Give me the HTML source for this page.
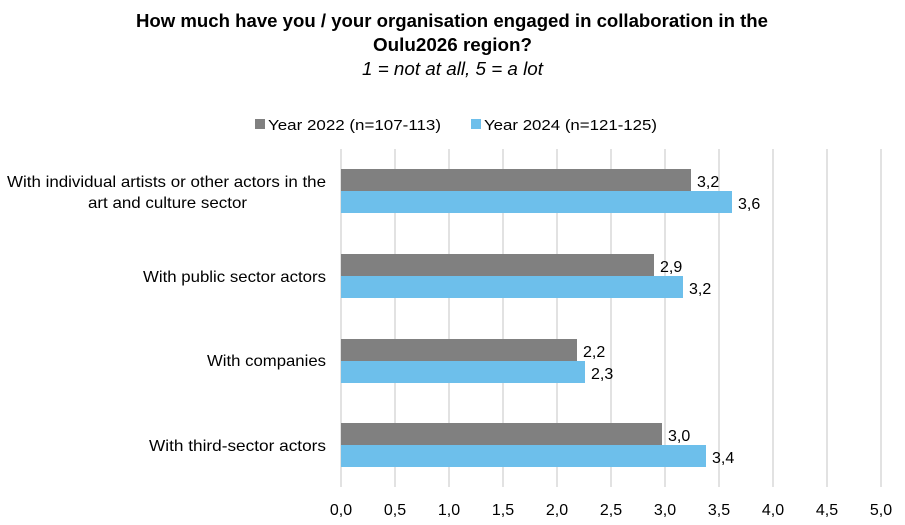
<!DOCTYPE html>
<html><head><meta charset="utf-8"><style>
html,body{margin:0;padding:0;background:#fff;}
svg{display:block;font-family:"Liberation Sans",sans-serif;}
</style></head><body>
<svg width="905" height="525" viewBox="0 0 905 525" xmlns="http://www.w3.org/2000/svg">
<text x="136" y="27" font-size="18" font-weight="bold" fill="#000" textLength="632" lengthAdjust="spacingAndGlyphs">How much have you / your organisation engaged in collaboration in the</text>
<text x="373" y="51" font-size="18" font-weight="bold" fill="#000" textLength="159" lengthAdjust="spacingAndGlyphs">Oulu2026 region?</text>
<text x="362" y="75" font-size="18" font-style="italic" fill="#000" textLength="181" lengthAdjust="spacingAndGlyphs">1 = not at all, 5 = a lot</text>
<rect x="255" y="119" width="10" height="10" fill="#808080"/>
<text x="268" y="130" font-size="15" fill="#000" textLength="173" lengthAdjust="spacingAndGlyphs">Year 2022 (n=107-113)</text>
<rect x="471" y="119" width="10" height="10" fill="#6dbfeb"/>
<text x="484" y="130" font-size="15" fill="#000" textLength="173" lengthAdjust="spacingAndGlyphs">Year 2024 (n=121-125)</text>
<g stroke="#d9d9d9" stroke-width="1.5">
<line x1="341" y1="149" x2="341" y2="487"/><line x1="395" y1="149" x2="395" y2="487"/>
<line x1="449" y1="149" x2="449" y2="487"/><line x1="503" y1="149" x2="503" y2="487"/>
<line x1="557" y1="149" x2="557" y2="487"/><line x1="611" y1="149" x2="611" y2="487"/>
<line x1="665" y1="149" x2="665" y2="487"/><line x1="719" y1="149" x2="719" y2="487"/>
<line x1="773" y1="149" x2="773" y2="487"/><line x1="827" y1="149" x2="827" y2="487"/>
<line x1="881" y1="149" x2="881" y2="487"/>
</g>
<g fill="#808080">
<rect x="341" y="169" width="350" height="22"/><rect x="341" y="254" width="313" height="22"/>
<rect x="341" y="339" width="236" height="22"/><rect x="341" y="423" width="321" height="22"/>
</g>
<g fill="#6dbfeb">
<rect x="341" y="191" width="391" height="22"/><rect x="341" y="276" width="342" height="22"/>
<rect x="341" y="361" width="244" height="22"/><rect x="341" y="445" width="365" height="22"/>
</g>
<g font-size="16" fill="#000">
<text x="697" y="187">3,2</text><text x="738" y="209">3,6</text>
<text x="660" y="272">2,9</text><text x="689" y="294">3,2</text>
<text x="583" y="357">2,2</text><text x="591" y="379">2,3</text>
<text x="668" y="441">3,0</text><text x="712" y="463">3,4</text>
</g>
<g font-size="16" fill="#000">
<text x="7" y="187" textLength="319" lengthAdjust="spacingAndGlyphs">With individual artists or other actors in the</text>
<text x="88" y="208" textLength="159" lengthAdjust="spacingAndGlyphs">art and culture sector</text>
<text x="143" y="282" textLength="183" lengthAdjust="spacingAndGlyphs">With public sector actors</text>
<text x="207" y="366" textLength="119" lengthAdjust="spacingAndGlyphs">With companies</text>
<text x="149" y="451" textLength="177" lengthAdjust="spacingAndGlyphs">With third-sector actors</text>
</g>
<g font-size="16" fill="#000" text-anchor="middle">
<text x="341" y="515">0,0</text><text x="395" y="515">0,5</text><text x="449" y="515">1,0</text>
<text x="503" y="515">1,5</text><text x="557" y="515">2,0</text><text x="611" y="515">2,5</text>
<text x="665" y="515">3,0</text><text x="719" y="515">3,5</text><text x="773" y="515">4,0</text>
<text x="827" y="515">4,5</text><text x="881" y="515">5,0</text>
</g>
</svg>
</body></html>
